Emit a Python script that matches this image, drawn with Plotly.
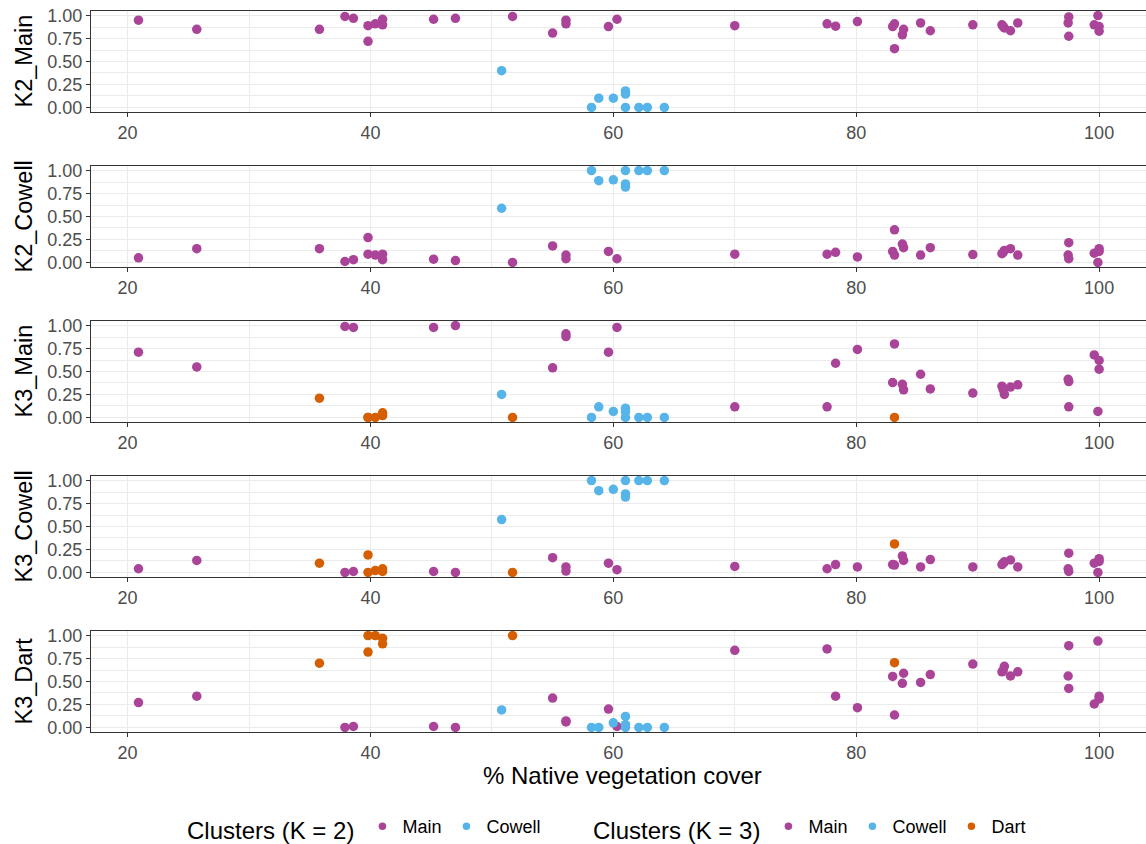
import plotly.graph_objects as go

# ---- data ----
cover = [20.9, 25.7, 35.8, 37.9, 38.6, 39.8, 39.8, 40.4, 41.0, 41.0,
         45.2, 47.0, 50.8, 51.7, 55.0, 56.1, 56.1, 58.2, 58.8, 59.6,
         60.0, 60.3, 61.0, 61.0, 61.0, 62.1, 62.8, 64.2, 70.0, 77.6,
         78.3, 80.1, 83.0, 83.15, 83.15, 83.8, 83.9, 85.3, 86.1, 89.6,
         92.0, 92.2, 92.1, 92.7, 93.3, 97.5, 97.45, 97.5, 99.9, 99.6,
         100.0, 100.0]
k2_main = [0.95, 0.85, 0.85, 0.99, 0.97, 0.89, 0.72, 0.91, 0.96, 0.90,
           0.96, 0.97, 0.40, 0.99, 0.81, 0.95, 0.91, 0.00, 0.10, 0.88,
           0.10, 0.96, 0.00, 0.145, 0.18, 0.00, 0.00, 0.00, 0.89, 0.91,
           0.885, 0.935, 0.88, 0.91, 0.64, 0.79, 0.85, 0.92, 0.835, 0.90,
           0.90, 0.865, 0.88, 0.835, 0.92, 0.985, 0.92, 0.775, 1.00, 0.90,
           0.88, 0.83]
k2_cowell = [0.05, 0.15, 0.15, 0.01, 0.03, 0.09, 0.27, 0.08, 0.03, 0.09,
             0.035, 0.02, 0.59, 0.00, 0.18, 0.04, 0.08, 1.00, 0.89, 0.12,
             0.90, 0.04, 1.00, 0.855, 0.82, 1.00, 1.00, 1.00, 0.09, 0.09,
             0.11, 0.06, 0.12, 0.08, 0.355, 0.20, 0.16, 0.08, 0.16, 0.085,
             0.095, 0.13, 0.11, 0.15, 0.08, 0.04, 0.08, 0.215, 0.00, 0.10,
             0.12, 0.15]
k3_main = [0.71, 0.55, 0.21, 0.99, 0.98, 0.00, 0.00, 0.00, 0.02, 0.05,
           0.98, 1.00, 0.25, 0.00, 0.54, 0.91, 0.88, 0.00, 0.115, 0.71,
           0.065, 0.98, 0.00, 0.10, 0.06, 0.00, 0.00, 0.00, 0.115, 0.115,
           0.59, 0.74, 0.38, 0.00, 0.80, 0.36, 0.30, 0.47, 0.31, 0.265,
           0.34, 0.25, 0.30, 0.33, 0.355, 0.115, 0.415, 0.39, 0.065, 0.68,
           0.62, 0.525]
k3_cowell = [0.04, 0.13, 0.10, 0.00, 0.01, 0.00, 0.19, 0.02, 0.01, 0.04,
             0.01, 0.00, 0.575, 0.00, 0.16, 0.015, 0.06, 1.00, 0.89, 0.10,
             0.905, 0.03, 1.00, 0.855, 0.82, 1.00, 1.00, 1.00, 0.065, 0.04,
             0.085, 0.06, 0.085, 0.31, 0.08, 0.18, 0.13, 0.06, 0.14, 0.06,
             0.085, 0.115, 0.10, 0.135, 0.06, 0.01, 0.04, 0.21, 0.00, 0.10,
             0.12, 0.15]
k3_dart = [0.27, 0.34, 0.70, 0.00, 0.01, 1.00, 0.82, 1.00, 0.97, 0.91,
           0.01, 0.00, 0.19, 1.00, 0.32, 0.07, 0.06, 0.00, 0.00, 0.20,
           0.05, 0.01, 0.00, 0.03, 0.12, 0.00, 0.00, 0.00, 0.84, 0.855,
           0.34, 0.215, 0.555, 0.705, 0.135, 0.48, 0.59, 0.49, 0.575, 0.69,
           0.605, 0.665, 0.62, 0.56, 0.605, 0.89, 0.56, 0.425, 0.94, 0.255,
           0.31, 0.34]
k2_cluster = (["Main"] * 12 + ["Cowell"] + ["Main"] * 4 + ["Cowell"] * 2 +
              ["Main", "Cowell", "Main"] + ["Cowell"] * 6 + ["Main"] * 24)
k3_cluster = (["Main", "Main", "Dart", "Main", "Main", "Dart", "Dart", "Dart", "Dart", "Dart",
               "Main", "Main", "Cowell", "Dart", "Main", "Main", "Main", "Cowell", "Cowell", "Main",
               "Cowell", "Main", "Cowell", "Cowell", "Cowell", "Cowell", "Cowell", "Cowell", "Main", "Main",
               "Main", "Main", "Main", "Dart", "Main", "Main", "Main", "Main", "Main", "Main",
               "Main", "Main", "Main", "Main", "Main", "Main", "Main", "Main", "Main", "Main",
               "Main", "Main"])

panel_names = ["K2_Main", "K2_Cowell", "K3_Main", "K3_Cowell", "K3_Dart"]
x_ticks = [20, 40, 60, 80, 100]
y_ticks = [0, 0.25, 0.5, 0.75, 1.0]
y_ticktext = ["0.00", "0.25", "0.50", "0.75", "1.00"]
k2_levels = ["Main", "Cowell"]
k3_levels = ["Main", "Cowell", "Dart"]
x_title = "% Native vegetation cover"
legend_titles = ["Clusters (K = 2)", "Clusters (K = 3)"]

colors = {"Main": "#AA4499", "Cowell": "#56B4E9", "Dart": "#D55E00"}

# ---- layout geometry ----
W, H = 1146, 844
panel_tops = [11, 166, 321, 476, 631]
panel_h = 101
left_px = 91
FONT = "Liberation Sans, Arial, Helvetica, sans-serif"
TICK_COL = "#4D4D4D"
LINE_COL = "#333333"
GRID = "#EBEBEB"

panels = [
    (k2_main, k2_cluster, k2_levels),
    (k2_cowell, k2_cluster, k2_levels),
    (k3_main, k3_cluster, k3_levels),
    (k3_cowell, k3_cluster, k3_levels),
    (k3_dart, k3_cluster, k3_levels),
]

fig = go.Figure()
annotations = []
for i, (vals, clus, levels) in enumerate(panels):
    sfx = "" if i == 0 else str(i + 1)
    for lev in levels:
        xs = [c for c, k in zip(cover, clus) if k == lev]
        ys = [v for v, k in zip(vals, clus) if k == lev]
        fig.add_trace(go.Scatter(
            x=xs, y=ys, mode="markers", name=lev,
            xaxis="x" + sfx, yaxis="y" + sfx,
            marker=dict(color=colors[lev], size=9.5, line=dict(width=0)),
            showlegend=False,
        ))
    top = panel_tops[i]
    bot = top + panel_h
    ydom = [1 - bot / H, 1 - top / H]
    fig.update_layout(**{
        "xaxis" + sfx: dict(
            domain=[left_px / W, 1], anchor="y" + sfx, automargin=False,
            range=[16.99, 103.86], tickvals=x_ticks,
            ticks="outside", ticklen=4, tickwidth=1, tickcolor=LINE_COL,
            showline=True, linecolor=LINE_COL, linewidth=1, mirror=True,
            showgrid=True, gridcolor=GRID, gridwidth=1.1, zeroline=False,
            minor=dict(dtick=10, tick0=0, showgrid=True, gridcolor=GRID, gridwidth=0.6, ticks=""),
            tickfont=dict(size=18, color=TICK_COL, family=FONT),
        ),
        "yaxis" + sfx: dict(
            domain=ydom, anchor="x" + sfx, automargin=False,
            range=[-0.05, 1.05], tickvals=y_ticks, ticktext=y_ticktext,
            ticks="outside", ticklen=4, tickwidth=1, tickcolor=LINE_COL,
            showline=True, linecolor=LINE_COL, linewidth=1, mirror=False,
            showgrid=True, gridcolor=GRID, gridwidth=1.1, zeroline=False,
            minor=dict(dtick=0.125, tick0=0, showgrid=True, gridcolor=GRID, gridwidth=0.6, ticks=""),
            tickfont=dict(size=18, color=TICK_COL, family=FONT),
        ),
    })
    annotations.append(dict(
        text=panel_names[i], xref="paper", yref="paper",
        x=23 / W, y=1 - (top + panel_h / 2) / H, xanchor="center", yanchor="middle",
        textangle=-90, showarrow=False, font=dict(size=23.5, color="black", family=FONT),
    ))

# legend keys (one per cluster level and legend), drawn smaller like the reference keys
for leg, levels in (("legend", k2_levels), ("legend2", k3_levels)):
    for lev in levels:
        fig.add_trace(go.Scatter(
            x=[None], y=[None], mode="markers", name=lev,
            marker=dict(color=colors[lev], size=7.5, line=dict(width=0)),
            legend=leg, showlegend=True, hoverinfo="skip",
        ))

annotations.append(dict(
    text=x_title, xref="paper", yref="paper", x=622 / W, y=1 - 775 / H,
    xanchor="center", yanchor="middle", showarrow=False,
    font=dict(size=24, color="black", family=FONT),
))

leg_common = dict(
    orientation="h", yref="paper", y=1 - 829 / H, yanchor="middle",
    xanchor="left", bgcolor="rgba(0,0,0,0)", borderwidth=0,
    font=dict(size=18, color="black", family=FONT), itemwidth=30,
    tracegroupgap=0,
)
fig.update_layout(
    width=W, height=H,
    margin=dict(l=0, r=0, t=0, b=0, autoexpand=False),
    paper_bgcolor="white", plot_bgcolor="white",
    font=dict(family=FONT),
    annotations=annotations,
    legend=dict(x=185 / W, title=dict(text=legend_titles[0], side="left",
                font=dict(size=24, color="black", family=FONT)), **leg_common),
    legend2=dict(x=591 / W, title=dict(text=legend_titles[1], side="left",
                 font=dict(size=24, color="black", family=FONT)), **leg_common),
)

fig.write_html("out.html")
